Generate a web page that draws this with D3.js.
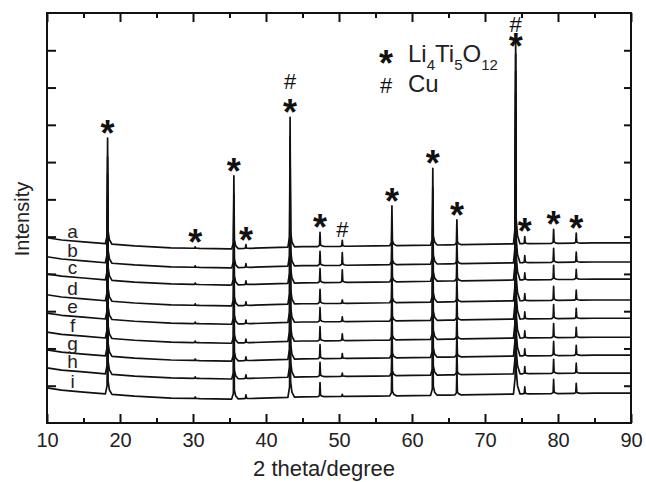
<!DOCTYPE html>
<html>
<head>
<meta charset="utf-8">
<script src="https://cdn.jsdelivr.net/npm/d3@7"></script>
<style>
  html, body { margin: 0; padding: 0; background: #fff; }
  svg { display: block; font-family: "Liberation Sans", Arial, sans-serif; }
</style>
</head>
<body>
<svg id="chart" width="646" height="482"></svg>
<script>
// XRD patterns of samples a–i, stacked with vertical offsets (arbitrary intensity units)
const traceNames = ["a", "b", "c", "d", "e", "f", "g", "h", "i"];
const traceOffsets = [4.70, 4.19, 3.73, 3.17, 2.68, 2.17, 1.69, 1.21, 0.67];

// Common background shape (relative level vs 2θ)
const bgAngles = [10, 12, 15, 18, 22, 27, 35, 45, 55, 65, 75, 85, 90];
const bgLevels = [0.27, 0.21, 0.16, 0.11, 0.05, 0, -0.03, 0.03, 0.05, 0.08, 0.11, 0.13, 0.13];

// Reflections: position (2θ) and peak height above background
const peakAngles  = [18.3, 30.3, 35.6, 37.25, 43.3, 47.4, 50.45, 57.25, 62.85, 66.15, 74.2, 75.45, 79.4, 82.5];
const peakHeights = [2.84, 0.04, 1.96, 0.10, 3.48, 0.38, 0.16, 1.07, 2.06, 0.67, 5.60, 0.19, 0.38, 0.27];
// Cu(200) reflection at 50.45° differs from sample to sample
const cuPeakHeights = [0.16, 0.34, 0.34, 0.09, 0.13, 0.18, 0.13, 0.09, 0.06];

// Marked reflections
const ltoMarks = [18.3, 30.3, 35.6, 37.25, 43.3, 47.4, 57.25, 62.85, 66.15, 74.2, 75.45, 79.4, 82.5];
const cuMarks = [43.3, 50.45, 74.2];

const xTicksMajor = [10, 20, 30, 40, 50, 60, 70, 80, 90];
const xTicksMinor = [15, 25, 35, 45, 55, 65, 75, 85];
const yTicks = [1, 2, 3, 4, 5, 6, 7, 8, 9, 10];

const svg = d3.select("#chart");
const L = 47, R = 631, T = 13, B = 423;
const x = d3.scaleLinear().domain([10, 90]).range([L, R]);
const y = d3.scaleLinear().domain([0, 11]).range([B, T]);

const background = d3.scaleLinear().domain(bgAngles).range(bgLevels).clamp(true);

// Profile of one reflection: sharp apex with a short tail on the high-angle side
function peakScale(pos, h) {
  return d3.scaleLinear()
    .domain([pos - 0.3, pos - 0.07, pos, pos + 0.07, pos + 0.25, pos + 0.6])
    .range([0, 0.08 * h, h, 0.12 * h, 0.04 * h, 0])
    .clamp(true);
}

function heightsFor(ti) {
  return peakHeights.map((h, k) => peakAngles[k] === 50.45 ? cuPeakHeights[ti] : h);
}

function traceValues(ti) {
  const heights = heightsFor(ti);
  const peaks = peakAngles.map((p, k) => peakScale(p, heights[k]));
  const xs = new Set(bgAngles);
  peaks.forEach(s => s.domain().forEach(v => xs.add(+v.toFixed(3))));
  const sorted = Array.from(xs).filter(v => v >= 10 && v <= 90).sort((a, b) => a - b);
  return sorted.map(t => [t, traceOffsets[ti] + background(t) + d3.sum(peaks, s => s(t))]);
}

const line = d3.line().x(d => x(d[0])).y(d => y(d[1]));

const traces = svg.append("g");
traceNames.forEach((name, ti) => {
  traces.append("path")
    .attr("d", line(traceValues(ti)))
    .attr("fill", "none")
    .attr("stroke", "#111")
    .attr("stroke-width", 1.7)
    .attr("stroke-linejoin", "round");
  traces.append("text")
    .attr("x", x(13.5))
    .attr("y", y(traceOffsets[ti] + background(13.5)) - 3)
    .attr("text-anchor", "middle")
    .attr("font-size", 19)
    .attr("fill", "#222")
    .text(name);
});

// Frame and inward ticks
function styleAxis(g) {
  g.select(".domain").remove();
  g.selectAll(".tick line").attr("stroke", "#111").attr("stroke-width", 2);
}
const axes = svg.append("g");
axes.append("g").attr("transform", `translate(0,${B})`)
  .call(d3.axisBottom(x).tickValues(xTicksMajor).tickSize(-9).tickPadding(10).tickFormat(d3.format("d")))
  .call(styleAxis)
  .call(g => g.selectAll("text").attr("font-size", 20).attr("fill", "#222").attr("font-family", "Liberation Sans, Arial, sans-serif"));
axes.append("g").attr("transform", `translate(0,${B})`)
  .call(d3.axisBottom(x).tickValues(xTicksMinor).tickSize(-5).tickFormat(""))
  .call(styleAxis);
axes.append("g").attr("transform", `translate(0,${T})`)
  .call(d3.axisTop(x).tickValues(xTicksMajor).tickSize(-9).tickFormat(""))
  .call(styleAxis);
axes.append("g").attr("transform", `translate(0,${T})`)
  .call(d3.axisTop(x).tickValues(xTicksMinor).tickSize(-5).tickFormat(""))
  .call(styleAxis);
axes.append("g").attr("transform", `translate(${L},0)`)
  .call(d3.axisLeft(y).tickValues(yTicks).tickSize(-9).tickFormat(""))
  .call(styleAxis);
axes.append("g").attr("transform", `translate(${R},0)`)
  .call(d3.axisRight(y).tickValues(yTicks).tickSize(-7).tickFormat(""))
  .call(styleAxis);
svg.append("rect")
  .attr("x", L).attr("y", T).attr("width", R - L).attr("height", B - T)
  .attr("fill", "none").attr("stroke", "#111").attr("stroke-width", 2);

// Axis titles
svg.append("text")
  .attr("x", 324).attr("y", 476)
  .attr("text-anchor", "middle").attr("font-size", 22).attr("fill", "#222")
  .text("2 theta/degree");
svg.append("text")
  .attr("transform", "translate(29,219) rotate(-90)")
  .attr("text-anchor", "middle").attr("font-size", 20).attr("fill", "#222")
  .text("Intensity");

// Phase markers above the reflections of the top pattern
const starSize = 36, hashSize = 22;
function topOfA(t) {
  const k = peakAngles.indexOf(t);
  return y(traceOffsets[0] + background(t) + heightsFor(0)[k]);
}
function star(g, cx, cy) {
  g.append("text").attr("x", cx).attr("y", cy + 0.58 * starSize)
    .attr("text-anchor", "middle").attr("font-size", starSize).attr("font-weight", "bold")
    .attr("fill", "#111").text("*");
}
function hash(g, cx, cy) {
  g.append("text").attr("x", cx).attr("y", cy + 0.36 * hashSize)
    .attr("text-anchor", "middle").attr("font-size", hashSize)
    .attr("fill", "#111").text("#");
}
const marks = svg.append("g");
ltoMarks.forEach(t => {
  const cy = Math.max(topOfA(t) - 13, 38);
  star(marks, x(t), cy);
  if (cuMarks.includes(t)) hash(marks, x(t), Math.max(cy - 23, 24));
});
cuMarks.filter(t => !ltoMarks.includes(t)).forEach(t => {
  hash(marks, x(t), topOfA(t) - 11);
});

// Legend
const legend = svg.append("g");
star(legend, 386, 55);
hash(legend, 386, 85);
const lto = legend.append("text").attr("x", 408).attr("y", 62)
  .attr("font-size", 24).attr("fill", "#222");
[["Li", 0], ["4", 1], ["Ti", 0], ["5", 1], ["O", 0], ["12", 1]].forEach(([s, sub], k, arr) => {
  const prevSub = k > 0 && arr[k - 1][1];
  lto.append("tspan")
    .attr("font-size", sub ? 15 : 24)
    .attr("dy", sub ? 8 : (prevSub ? -8 : 0))
    .text(s);
});
legend.append("text").attr("x", 408).attr("y", 92)
  .attr("font-size", 24).attr("fill", "#222").text("Cu");
</script>
</body>
</html>
